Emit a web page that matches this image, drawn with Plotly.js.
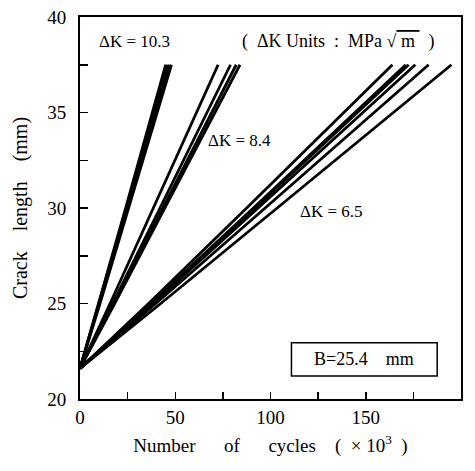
<!DOCTYPE html>
<html>
<head>
<meta charset="utf-8">
<script src="https://cdn.plot.ly/plotly-3.0.1.min.js"></script>
<style>body{margin:0;background:#fff}#c{width:475px;height:471px}</style>
</head>
<body>
<div id="c"></div>
<script>
// Crack length read points (mm)
const crackLength = [21.6, 25, 30, 35, 37.5];

// Number of cycles (x10^3) at each crack length, one array per specimen
const dk103_a = [0, 9.8, 24, 38, 45];
const dk103_b = [0, 10, 24.5, 38.8, 46];
const dk103_c = [0, 10.2, 25, 39.6, 47];
const dk103_d = [0, 10.5, 25.5, 40.4, 48];

const dk84_a = [0, 15.8, 38.5, 61, 72.5];
const dk84_b = [0, 17.2, 42, 66.6, 79];
const dk84_c = [0, 17.8, 43.5, 69.2, 82];
const dk84_d = [0, 18.2, 44.5, 70.8, 84];

const dk65_a = [0, 36, 87.5, 138.5, 164];
const dk65_b = [0, 37.2, 91, 144.3, 171];
const dk65_c = [0, 37.5, 91.8, 145.5, 172.5];
const dk65_d = [0, 38.3, 93.5, 148.5, 176];
const dk65_e = [0, 39.8, 97.2, 154.3, 183];
const dk65_f = [0, 42.4, 103.5, 164.5, 195];

const groups = [
  [dk103_a, dk103_b, dk103_c, dk103_d],
  [dk84_a, dk84_b, dk84_c, dk84_d],
  [dk65_a, dk65_b, dk65_c, dk65_d, dk65_e, dk65_f]
];

const xTickVals = [0, 50, 100, 150, 200];
const yTickVals = [20, 25, 30, 35, 40];

const traces = [];
groups.forEach(g => g.forEach(n => traces.push({
  x: n, y: crackLength, type: 'scatter', mode: 'lines',
  line: {color: '#000', width: 2.8},
  hoverinfo: 'skip', showlegend: false
})));

const serif = 'Liberation Serif';
const nb = '\u00a0';
const sp = n => nb.repeat(n);

const layout = {
  width: 475, height: 471,
  margin: {l: 80, r: 14, t: 17, b: 72},
  paper_bgcolor: '#fff', plot_bgcolor: '#fff',
  font: {family: serif, color: '#000', size: 16},
  showlegend: false,
  xaxis: {
    range: [0, 200], tickvals: xTickVals, ticks: 'inside', ticklen: 7, tickwidth: 1.5,
    tickcolor: '#000', showline: true, linewidth: 2, linecolor: '#000', mirror: true,
    showgrid: false, zeroline: false, tickfont: {size: 19, family: serif},
    minor: {tickvals: [25, 75, 125, 175], ticks: 'inside', ticklen: 7, tickwidth: 1.5, tickcolor: '#000', showgrid: false},
    title: {text: 'Number' + sp(6) + 'of' + sp(6) + 'cycles' + sp(4) + '(' + sp(2) + '×' + nb + '10' + '<sup>3</sup>' + sp(2) + ')', font: {size: 19, family: serif}, standoff: 12}
  },
  yaxis: {
    range: [20, 40], tickvals: yTickVals, ticks: 'inside', ticklen: 8, tickwidth: 1.5,
    tickcolor: '#000', showline: true, linewidth: 2, linecolor: '#000', mirror: true,
    showgrid: false, zeroline: false, tickfont: {size: 19, family: serif}, ticklabelstandoff: 8,
    minor: {tickvals: [22.5, 27.5, 32.5, 37.5], ticks: 'inside', ticklen: 8, tickwidth: 1.5, tickcolor: '#000', showgrid: false},
    title: {text: 'Crack' + sp(4) + 'length' + sp(4) + '(mm)', font: {size: 20, family: serif}, standoff: 14}
  },
  annotations: [
    {x: 28.5, y: 38.7, xref: 'x', yref: 'y', text: 'ΔK = 10.3', showarrow: false, font: {size: 17, family: serif}},
    {x: 84, y: 38.7, xref: 'x', yref: 'y', xanchor: 'left', text: '(' + sp(2) + 'ΔK' + nb + 'Units' + sp(2) + ':' + sp(2) + 'MPa' + nb + '√<span style="text-decoration:overline">' + nb + 'm' + nb + '</span>' + sp(2) + ')', showarrow: false, font: {size: 18, family: serif}},
    {x: 83.5, y: 33.55, xref: 'x', yref: 'y', text: 'ΔK = 8.4', showarrow: false, font: {size: 17, family: serif}},
    {x: 132, y: 29.8, xref: 'x', yref: 'y', text: 'ΔK = 6.5', showarrow: false, font: {size: 17, family: serif}},
    {x: 149.2, y: 22.07, xref: 'x', yref: 'y', text: 'B=25.4' + sp(4) + 'mm', showarrow: false, font: {size: 18, family: serif}}
  ],
  shapes: [
    {type: 'rect', xref: 'x', yref: 'y', x0: 111, x1: 187.5, y0: 21.2, y1: 22.95, line: {color: '#000', width: 1.5}, fillcolor: 'rgba(0,0,0,0)'}
  ]
};

Plotly.newPlot('c', traces, layout, {displayModeBar: false, staticPlot: true});
</script>
</body>
</html>
